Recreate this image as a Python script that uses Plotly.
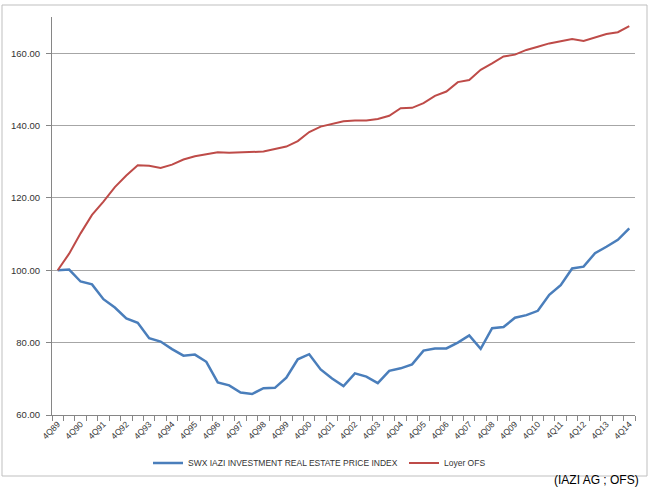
import plotly.graph_objects as go

periods = ["4Q89", "2Q90", "4Q90", "2Q91", "4Q91", "2Q92", "4Q92", "2Q93", "4Q93", "2Q94", "4Q94",
           "2Q95", "4Q95", "2Q96", "4Q96", "2Q97", "4Q97", "2Q98", "4Q98", "2Q99", "4Q99",
           "2Q00", "4Q00", "2Q01", "4Q01", "2Q02", "4Q02", "2Q03", "4Q03", "2Q04", "4Q04",
           "2Q05", "4Q05", "2Q06", "4Q06", "2Q07", "4Q07", "2Q08", "4Q08", "2Q09", "4Q09",
           "2Q10", "4Q10", "2Q11", "4Q11", "2Q12", "4Q12", "2Q13", "4Q13", "2Q14", "4Q14"]

swx_iazi = [100.0, 100.2, 96.9, 96.1, 92.0, 89.7, 86.7, 85.5, 81.2, 80.3, 78.2,
            76.4, 76.7, 74.7, 69.0, 68.2, 66.2, 65.8, 67.4, 67.5, 70.3,
            75.4, 76.8, 72.6, 70.1, 68.0, 71.5, 70.6, 68.8, 72.2, 72.9,
            74.0, 77.8, 78.4, 78.4, 80.0, 82.0, 78.3, 84.0, 84.3, 86.9,
            87.6, 88.8, 93.2, 95.9, 100.5, 101.0, 104.7, 106.5, 108.4, 111.6]

loyer_ofs = [100.0, 104.6, 110.2, 115.3, 119.0, 123.0, 126.2, 129.0, 128.9, 128.3, 129.2,
             130.6, 131.5, 132.0, 132.6, 132.5, 132.6, 132.7, 132.8, 133.5, 134.2,
             135.7, 138.2, 139.7, 140.5, 141.2, 141.4, 141.4, 141.8, 142.7, 144.8,
             144.9, 146.2, 148.2, 149.4, 152.0, 152.6, 155.4, 157.2, 159.1, 159.6,
             160.9, 161.8, 162.7, 163.3, 163.9, 163.4, 164.3, 165.3, 165.8, 167.5]

y_ticks = [60, 80, 100, 120, 140, 160]

idx = list(range(len(periods)))
label_idx = [i for i in idx if periods[i].startswith("4Q")]
label_txt = [periods[i] for i in label_idx]
boundaries = [i - 0.5 for i in idx] + [len(idx) - 0.5]

fig = go.Figure()
fig.add_trace(go.Scatter(x=idx, y=swx_iazi, mode="lines",
                         name="SWX IAZI INVESTMENT REAL ESTATE PRICE INDEX",
                         line=dict(color="#4A7EBB", width=2.5), legend="legend"))
fig.add_trace(go.Scatter(x=idx, y=loyer_ofs, mode="lines", name="Loyer OFS",
                         line=dict(color="#BE4B48", width=2), legend="legend2"))

leg_font = dict(size=8.5, color="#333333", family="Liberation Sans, Arial, sans-serif")
leg_y = (415 - 463) / 398

fig.update_layout(
    width=650, height=489,
    margin=dict(l=52, r=15, t=17, b=74, autoexpand=False),
    paper_bgcolor="white", plot_bgcolor="white",
    font=dict(family="Liberation Sans, Arial, sans-serif", size=8, color="#222222"),
    showlegend=True,
    legend=dict(orientation="h", x=(148 - 52) / 583, y=leg_y, xanchor="left", yanchor="middle",
                font=leg_font, bgcolor="rgba(0,0,0,0)"),
    legend2=dict(orientation="h", x=(404 - 52) / 583, y=leg_y, xanchor="left", yanchor="middle",
                 font=leg_font, bgcolor="rgba(0,0,0,0)"),
    xaxis=dict(range=[-0.5, len(idx) - 0.5], tickmode="array", tickvals=label_idx,
               ticktext=label_txt, tickangle=-45, ticks="", showgrid=False,
               showline=True, linecolor="#868686", linewidth=1, zeroline=False,
               tickfont=dict(size=8.5, color="#333333"),
               minor=dict(tickmode="array", tickvals=boundaries, ticks="outside",
                          ticklen=5, tickcolor="#868686", showgrid=False)),
    yaxis=dict(range=[60, 170], tickmode="array", tickvals=y_ticks,
               ticktext=[f"{v:.2f}" for v in y_ticks], ticks="outside", ticklen=5,
               tickcolor="#868686", showline=True, linecolor="#868686", linewidth=1,
               showgrid=True, gridcolor="#A6A6A6", gridwidth=1, zeroline=False,
               ticklabelstandoff=4,
               tickfont=dict(size=9.5, color="#333333")),
    shapes=[dict(type="rect", xref="paper", yref="paper",
                 x0=-50 / 583, x1=595 / 583, y0=(415 - 476) / 398, y1=(415 - 5) / 398,
                 line=dict(color="#BFBFBF", width=1), fillcolor="rgba(0,0,0,0)", layer="below")],
    annotations=[dict(text="(IAZI AG ; OFS)", xref="paper", yref="paper",
                      x=(641 - 52) / 583, y=(415 - 488.5) / 398, xanchor="right", yanchor="bottom",
                      showarrow=False, font=dict(size=12, color="#000000"))],
)

fig.write_html("out.html")
